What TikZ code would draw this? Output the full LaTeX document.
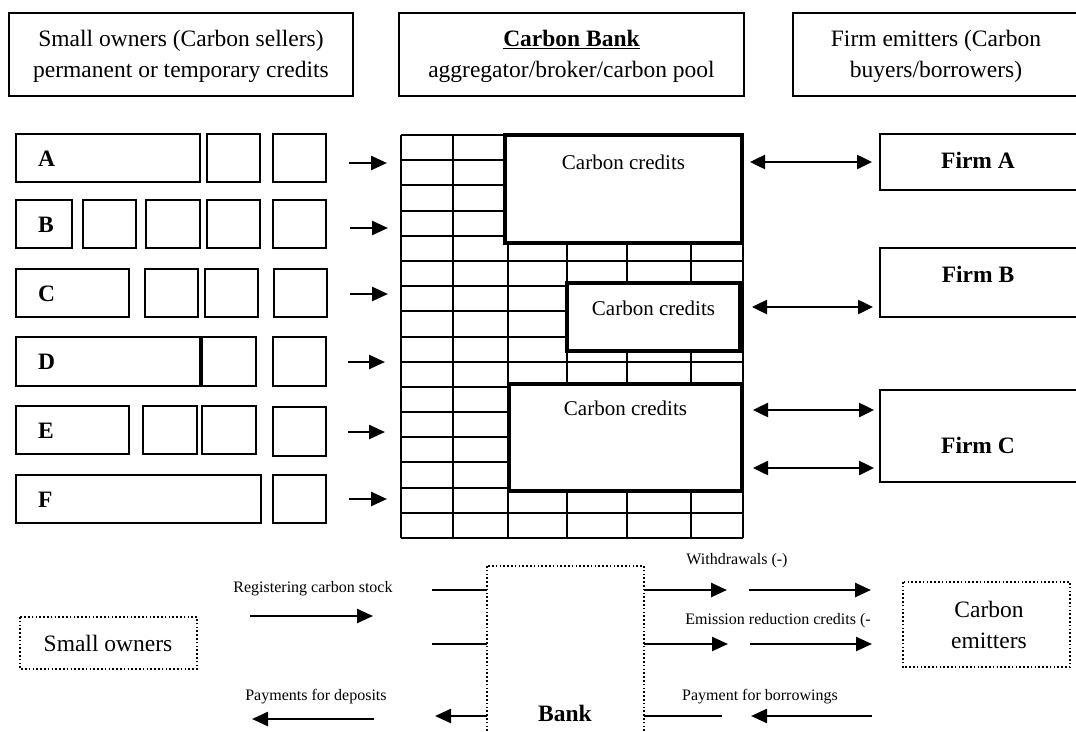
\documentclass[tikz,border=0pt]{standalone}
\usepackage{fontspec}
\setmainfont{Liberation Serif}
\usetikzlibrary{arrows.meta}

\begin{document}
\begin{tikzpicture}[x=1pt,y=-1pt,line width=2pt,
  bigtxt/.style={font=\fontsize{23.5}{31}\selectfont,align=center,inner sep=0pt},
  boldtxt/.style={font=\fontsize{23.5}{31}\selectfont\bfseries,inner sep=0pt},
  cctxt/.style={font=\fontsize{21}{25}\selectfont,inner sep=0pt},
  smalltxt/.style={font=\fontsize{16}{19}\selectfont,inner sep=0pt},
  ccbox/.style={line width=3.5pt,fill=white},
  dotbox/.style={line width=2pt,dash pattern=on 1.6pt off 2.2pt},
  arr/.style={line width=2.5pt,-{Triangle[length=16pt,width=14pt]}},
  darr/.style={line width=2.5pt,{Triangle[length=15pt,width=14pt]}-{Triangle[length=15pt,width=14pt]}}]
  \useasboundingbox (0,0) rectangle (1076,731);

  % headers
  \draw (8.5,13) rectangle (353,96);
  \node[bigtxt] (sellers) at (181,56) {Small owners (Carbon sellers)\\permanent or temporary credits};
  \draw (399,13) rectangle (744,96);
  \node[bigtxt] (pool) at (571.5,56) {\textbf{\underline{Carbon Bank}}\\aggregator/broker/carbon pool};
  \draw (793,13) rectangle (1100,96);
  \node[bigtxt] (buyers) at (936,56) {Firm emitters (Carbon\\buyers/borrowers)};

  % small owners A to F
  \draw (16,134) rectangle (200,182) (207,134) rectangle (260,182) (273,134) rectangle (326,182);
  \node[boldtxt,anchor=west] (rowA) at (37,159) {A};
  \draw[arr] (349,163) -- (387,163);
  \draw (16,200) rectangle (72,248) (83,200) rectangle (136,248) (146,200) rectangle (200,248)
        (207,200) rectangle (260,248) (273,200) rectangle (326,248);
  \node[boldtxt,anchor=west] (rowB) at (37,225) {B};
  \draw[arr] (350,228) -- (388,228);
  \draw (16,269) rectangle (129,317) (145,269) rectangle (198,317) (205,269) rectangle (258,317)
        (274,269) rectangle (327,317);
  \node[boldtxt,anchor=west] (rowC) at (37,294) {C};
  \draw[arr] (350,294) -- (388,294);
  \draw (16,337) rectangle (200,386) (202,337) rectangle (256,386) (273,337) rectangle (326,386);
  \node[boldtxt,anchor=west] (rowD) at (37,362) {D};
  \draw[arr] (348,362) -- (385,362);
  \draw (16,406) rectangle (129,454) (143,406) rectangle (197,454) (202,406) rectangle (256,454)
        (273,407) rectangle (326,456);
  \node[boldtxt,anchor=west] (rowE) at (37,431) {E};
  \draw[arr] (348,432) -- (385,432);
  \draw (16,475) rectangle (261,523) (273,475) rectangle (326,523);
  \node[boldtxt,anchor=west] (rowF) at (37,500) {F};
  \draw[arr] (349,499) -- (387,499);

  % carbon pool grid
  \foreach \k in {0,...,16}
    \draw (401,{135+\k*25.19}) -- (743,{135+\k*25.19});
  \foreach \x in {401,453,508,567,627,691,743}
    \draw (\x,135) -- (\x,538);
  \draw[ccbox] (505,135) rectangle (742,243);
  \node[cctxt] (cc1) at (623.5,162) {Carbon credits};
  \draw[ccbox] (567,283) rectangle (740,351);
  \node[cctxt] (cc2) at (653.5,308) {Carbon credits};
  \draw[ccbox] (509,384) rectangle (742,491);
  \node[cctxt] (cc3) at (625.5,408) {Carbon credits};

  % firms
  \draw (880,134) rectangle (1100,190);
  \node[boldtxt] (firmA) at (978,160) {Firm A};
  \draw[darr] (750,162) -- (872,162);
  \draw (880,248) rectangle (1100,317);
  \node[boldtxt] (firmB) at (978,274) {Firm B};
  \draw[darr] (752,307) -- (873,307);
  \draw (880,390) rectangle (1100,482);
  \node[boldtxt] (firmC) at (978,445) {Firm C};
  \draw[darr] (753,410) -- (874,410);
  \draw[darr] (753,468) -- (874,468);

  % flows through the bank
  \draw[dotbox] (20,617) rectangle (197,669);
  \node[bigtxt] (owners) at (108,643) {Small owners};
  \node[smalltxt] (register) at (313,589) {Registering carbon stock};
  \draw[arr] (250,616) -- (373,616);
  \draw[line width=2.5pt] (432,590) -- (487,590);
  \draw[line width=2.5pt] (432,644) -- (487,644);
  \node[smalltxt] (deposits) at (316,697) {Payments for deposits};
  \draw[arr] (374,719) -- (252,719);
  \draw[arr] (487,716) -- (435,716);

  \draw[dotbox] (487,566) rectangle (644,760);
  \node[boldtxt] (bank) at (565,713) {Bank};

  \node[smalltxt] (withdraw) at (737,561) {Withdrawals (-)};
  \draw[arr] (644,590) -- (727,590);
  \draw[arr] (749,590) -- (871,590);
  \node[smalltxt] (reduce) at (778,621) {Emission reduction credits (-};
  \draw[arr] (644,644) -- (728,644);
  \draw[arr] (750,644) -- (872,644);
  \node[smalltxt] (borrow) at (760,697) {Payment for borrowings};
  \draw[line width=2.5pt] (644,716) -- (722,716);
  \draw[arr] (872,716) -- (751,716);

  \draw[dotbox] (903,582) rectangle (1070,667);
  \node[bigtxt] (emitters) at (989,625) {Carbon\\emitters};
\end{tikzpicture}
\end{document}
